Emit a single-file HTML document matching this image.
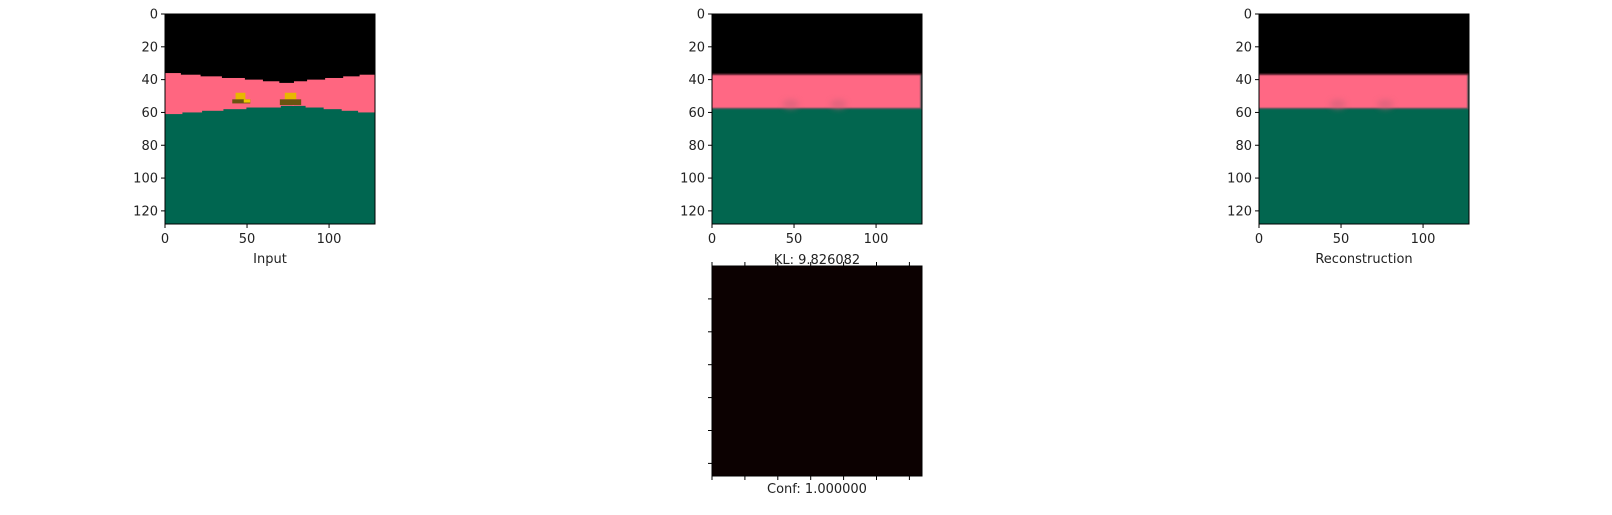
<!DOCTYPE html>
<html><head><meta charset="utf-8"><style>
body{margin:0;background:#fff;}
svg text{font-family:"DejaVu Sans","Liberation Sans",sans-serif;font-size:13px;fill:#222;}
</style></head><body>
<svg id="fig" width="1612" height="510" xmlns="http://www.w3.org/2000/svg">
<defs>
<filter id="blur" x="-5%" y="-5%" width="110%" height="110%"><feGaussianBlur stdDeviation="0.6"/></filter>
<filter id="blur2" x="-50%" y="-50%" width="200%" height="200%"><feGaussianBlur stdDeviation="3"/></filter>
</defs>
</svg>
<script>
// data arrays
const colStarts = [0,10,22,35,49,60,70,78,86,97,108,118];
const skyEdge   = [36,37,38,39,40,41,42,41,40,39,38,37];
const groundEdge= [61,60,59,58,57,57,56,56,57,58,59,60];
const xTicks = [0,50,100];
const yTicks = [0,20,40,60,80,100,120];
const reconSky = 37, reconGround = 58;
const confTicksX = [0,1,2,3,4,5,6];
const confTicksY = [1,2,3,4,5,6];

const NS="http://www.w3.org/2000/svg";
const svg=document.getElementById('fig');
const S=210/128;
function el(tag,attrs,parent){const e=document.createElementNS(NS,tag);for(const k in attrs)e.setAttribute(k,attrs[k]);(parent||svg).appendChild(e);return e;}

function panel(x0,y0,name,label,drawFn){
  const g=el('g',{transform:`translate(${x0},${y0})`});
  
  
  const clip=el('clipPath',{id:'c'+name},g);
  el('rect',{x:0,y:0,width:210,height:210},clip);
  const img=el('g',{'clip-path':`url(#c${name})`},g);
  drawFn(img);
  el('rect',{x:0,y:0,width:210,height:210,fill:'none',stroke:'#000','stroke-width':1},g);
  xTicks.forEach(v=>{const px=v*S;
    el('line',{x1:px,x2:px,y1:210,y2:214,stroke:'#000'},g);
    const t=el('text',{x:px,y:229,'text-anchor':'middle'},g);t.textContent=v;
    
    });
  yTicks.forEach(v=>{const py=v*S;
    el('line',{x1:-4,x2:0,y1:py,y2:py,stroke:'#000'},g);
    const t=el('text',{x:-7,y:py+4.5,'text-anchor':'end'},g);t.textContent=v;
    
    });
  const lt=el('text',{x:105,y:249,'text-anchor':'middle'},g);lt.textContent=label;
  
  
}
function drawInput(g){
  el('rect',{x:0,y:0,width:210,height:210,fill:'#006650'},g);
  colStarts.forEach((c,i)=>{const end=i+1<colStarts.length?colStarts[i+1]:128;
    el('rect',{x:c*S-0.5,y:0,width:(end-c)*S+1.5,height:groundEdge[i]*S,fill:'#ff6680'},g);});
  colStarts.forEach((c,i)=>{const end=i+1<colStarts.length?colStarts[i+1]:128;
    el('rect',{x:c*S-0.5,y:0,width:(end-c)*S+1.5,height:skyEdge[i]*S,fill:'#000'},g);});
  // objects
  el('rect',{x:43*S,y:48*S,width:6*S,height:5*S,fill:'#e8b800'},g);
  el('rect',{x:41*S,y:52*S,width:11*S,height:2.5*S,fill:'#6b5410'},g);
  el('rect',{x:48*S,y:52*S,width:4*S,height:2*S,fill:'#f0c800'},g);
  el('rect',{x:73*S,y:48*S,width:7*S,height:4*S,fill:'#e8b800'},g);
  el('rect',{x:70*S,y:52*S,width:13*S,height:3.5*S,fill:'#6b5410'},g);
}
function drawRecon(g){
  el('rect',{x:0,y:0,width:210,height:210,fill:'#02664f'},g);
  const b=el('g',{filter:'url(#blur)'},g);
  el('rect',{x:-5,y:-5,width:220,height:reconGround*S+5,fill:'#5a5a5e'},b);
  el('rect',{x:-5,y:-5,width:213,height:reconGround*S+3.5,fill:'#ff6884'},b);
  el('rect',{x:-5,y:-5,width:220,height:reconSky*S+5,fill:'#000'},b);
  el('rect',{x:-5,y:reconSky*S-1,width:220,height:1.5,fill:'#5a2030'},b);
  el('ellipse',{cx:48*S,cy:55*S,rx:5*S,ry:3*S,fill:'#c86078',opacity:0.5,filter:'url(#blur2)'},g);
  el('ellipse',{cx:77*S,cy:55*S,rx:5*S,ry:3*S,fill:'#c86078',opacity:0.5,filter:'url(#blur2)'},g);
}
panel(165,14,'input-panel','Input',drawInput);
panel(712,14,'mean-panel','',drawRecon);
panel(1259,14,'reconstruction-panel','Reconstruction',drawRecon);
// KL label
const kl=el('text',{x:817,y:264,'text-anchor':'middle'});kl.textContent='KL: 9.826082';


// conf panel
const cg=el('g',{transform:'translate(712,266)'});


el('rect',{x:0,y:0,width:210,height:210,fill:'#0c0101',stroke:'#000'},cg);
confTicksX.forEach(v=>{const px=v*32.9;
  el('line',{x1:px,x2:px,y1:-4,y2:0,stroke:'#000'},cg);
  el('line',{x1:px,x2:px,y1:210,y2:214,stroke:'#000'},cg);});
confTicksY.forEach(v=>{const py=v*32.9;
  el('line',{x1:-4,x2:0,y1:py,y2:py,stroke:'#000'},cg);});
const cf=el('text',{x:105,y:227,'text-anchor':'middle'},cg);cf.textContent='Conf: 1.000000';


</script>
</body></html>
